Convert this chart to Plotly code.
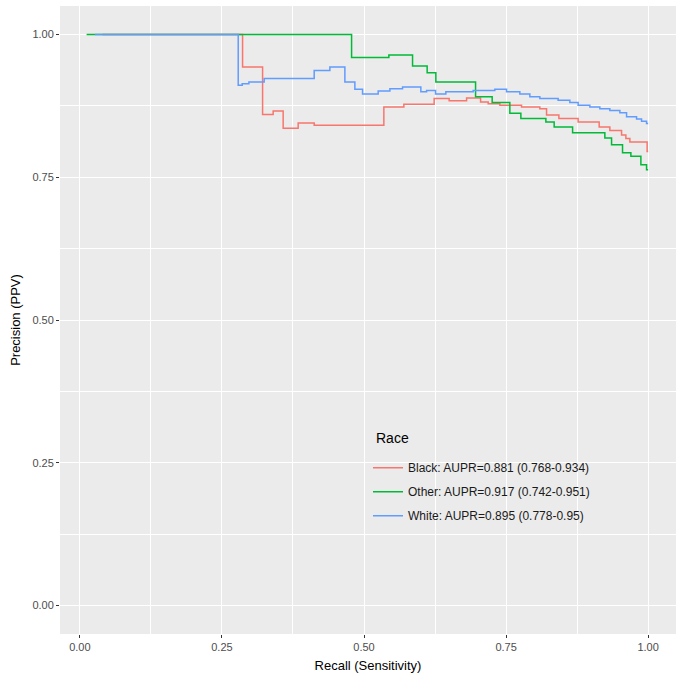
import plotly.graph_objects as go

# Precision-recall step curves by race
black_recall = [0.04, 0.2863, 0.3215, 0.3401, 0.3577, 0.3841, 0.4123, 0.5349, 0.5701,
                0.6234, 0.6498, 0.6805, 0.7051, 0.7185, 0.7391, 0.7772, 0.8094, 0.8212,
                0.8429, 0.8768, 0.9138, 0.9326, 0.9532, 0.9608, 0.9678, 0.9982, 1.0]
black_precision = [1.0, 0.943, 0.860, 0.866, 0.836, 0.845, 0.841, 0.873, 0.878,
                   0.888, 0.884, 0.889, 0.882, 0.879, 0.876, 0.873, 0.870, 0.859,
                   0.853, 0.847, 0.838, 0.832, 0.824, 0.818, 0.812, 0.795, 0.795]

other_recall = [0.0118, 0.4781, 0.5437, 0.5854, 0.6111, 0.6264, 0.6963, 0.7255, 0.7566,
                0.7760, 0.8200, 0.8346, 0.8670, 0.9238, 0.9356, 0.9549, 0.9696, 0.9872,
                0.9972, 1.0]
other_precision = [1.0, 0.960, 0.964, 0.945, 0.933, 0.917, 0.891, 0.881, 0.862,
                   0.853, 0.847, 0.838, 0.828, 0.819, 0.807, 0.793, 0.787, 0.772,
                   0.763, 0.763]

white_recall = [0.0264, 0.2786, 0.2856, 0.2974, 0.3243, 0.4123, 0.4399, 0.4663, 0.4839,
                0.4974, 0.5249, 0.5455, 0.5678, 0.6000, 0.6101, 0.6259, 0.6440, 0.6921,
                0.7302, 0.7508, 0.7742, 0.7918, 0.8094, 0.8416, 0.8622, 0.8768, 0.8974,
                0.9150, 0.9326, 0.9502, 0.9620, 0.9796, 0.9884, 0.9972, 1.0]
white_precision = [1.0, 0.911, 0.914, 0.917, 0.923, 0.937, 0.943, 0.917, 0.904,
                   0.896, 0.901, 0.905, 0.908, 0.900, 0.902, 0.896, 0.900, 0.902,
                   0.904, 0.900, 0.896, 0.891, 0.888, 0.885, 0.881, 0.876, 0.873,
                   0.870, 0.867, 0.863, 0.856, 0.852, 0.848, 0.844, 0.844]

series_names = ['Black: AUPR=0.881 (0.768-0.934)',
                'Other: AUPR=0.917 (0.742-0.951)',
                'White: AUPR=0.895 (0.778-0.95)']
colors = ['#F8766D', '#00BA38', '#619CFF']

fig = go.Figure()

curves = [(black_recall, black_precision), (other_recall, other_precision),
          (white_recall, white_precision)]
for (x, y), name, color in zip(curves, series_names, colors):
    fig.add_trace(go.Scatter(
        x=x, y=y, name=name, mode='lines',
        line=dict(color=color, width=1.5, shape='hv'),
        legendgroup=name
    ))

axis_common = dict(
    showgrid=True, gridcolor='white', gridwidth=1.3,
    zeroline=False, showline=False, automargin=False,
    ticks='outside', ticklen=3, tickwidth=1, tickcolor='#333333',
    tickfont=dict(size=11, color='#4D4D4D'),
    tick0=0, dtick=0.25, tickformat='.2f',
    minor=dict(tick0=0, dtick=0.125, showgrid=True, gridcolor='white', gridwidth=0.6, ticks=''),
)

fig.update_layout(
    width=685, height=685,
    margin=dict(l=60, r=9, t=6, b=51),
    paper_bgcolor='white', plot_bgcolor='#EBEBEB',
    font=dict(family='Arial, Liberation Sans, sans-serif', color='black'),
    xaxis=dict(axis_common, range=[-0.035, 1.049],
               title=dict(text='Recall (Sensitivity)', font=dict(size=13), standoff=8)),
    yaxis=dict(axis_common, range=[-0.05, 1.05],
               title=dict(text='Precision (PPV)', font=dict(size=13), standoff=8)),
    legend=dict(
        x=0.5, y=0.288, xanchor='left', yanchor='top',
        bgcolor='rgba(0,0,0,0)',
        font=dict(size=12, color='#1A1A1A'),
        tracegroupgap=5, itemwidth=30
    ),
    showlegend=True
)

# legend title placed by hand to get ggplot's gap above the keys
fig.add_annotation(
    text='Race', xref='paper', yref='paper', x=0.509, y=0.312,
    xanchor='left', yanchor='middle', showarrow=False,
    font=dict(size=14, color='black')
)

# drop the browser's default body margin so the figure sits at the page corner
fig.write_html('out.html', config={'displayModeBar': False},
               post_script="document.body.style.margin='0';")
